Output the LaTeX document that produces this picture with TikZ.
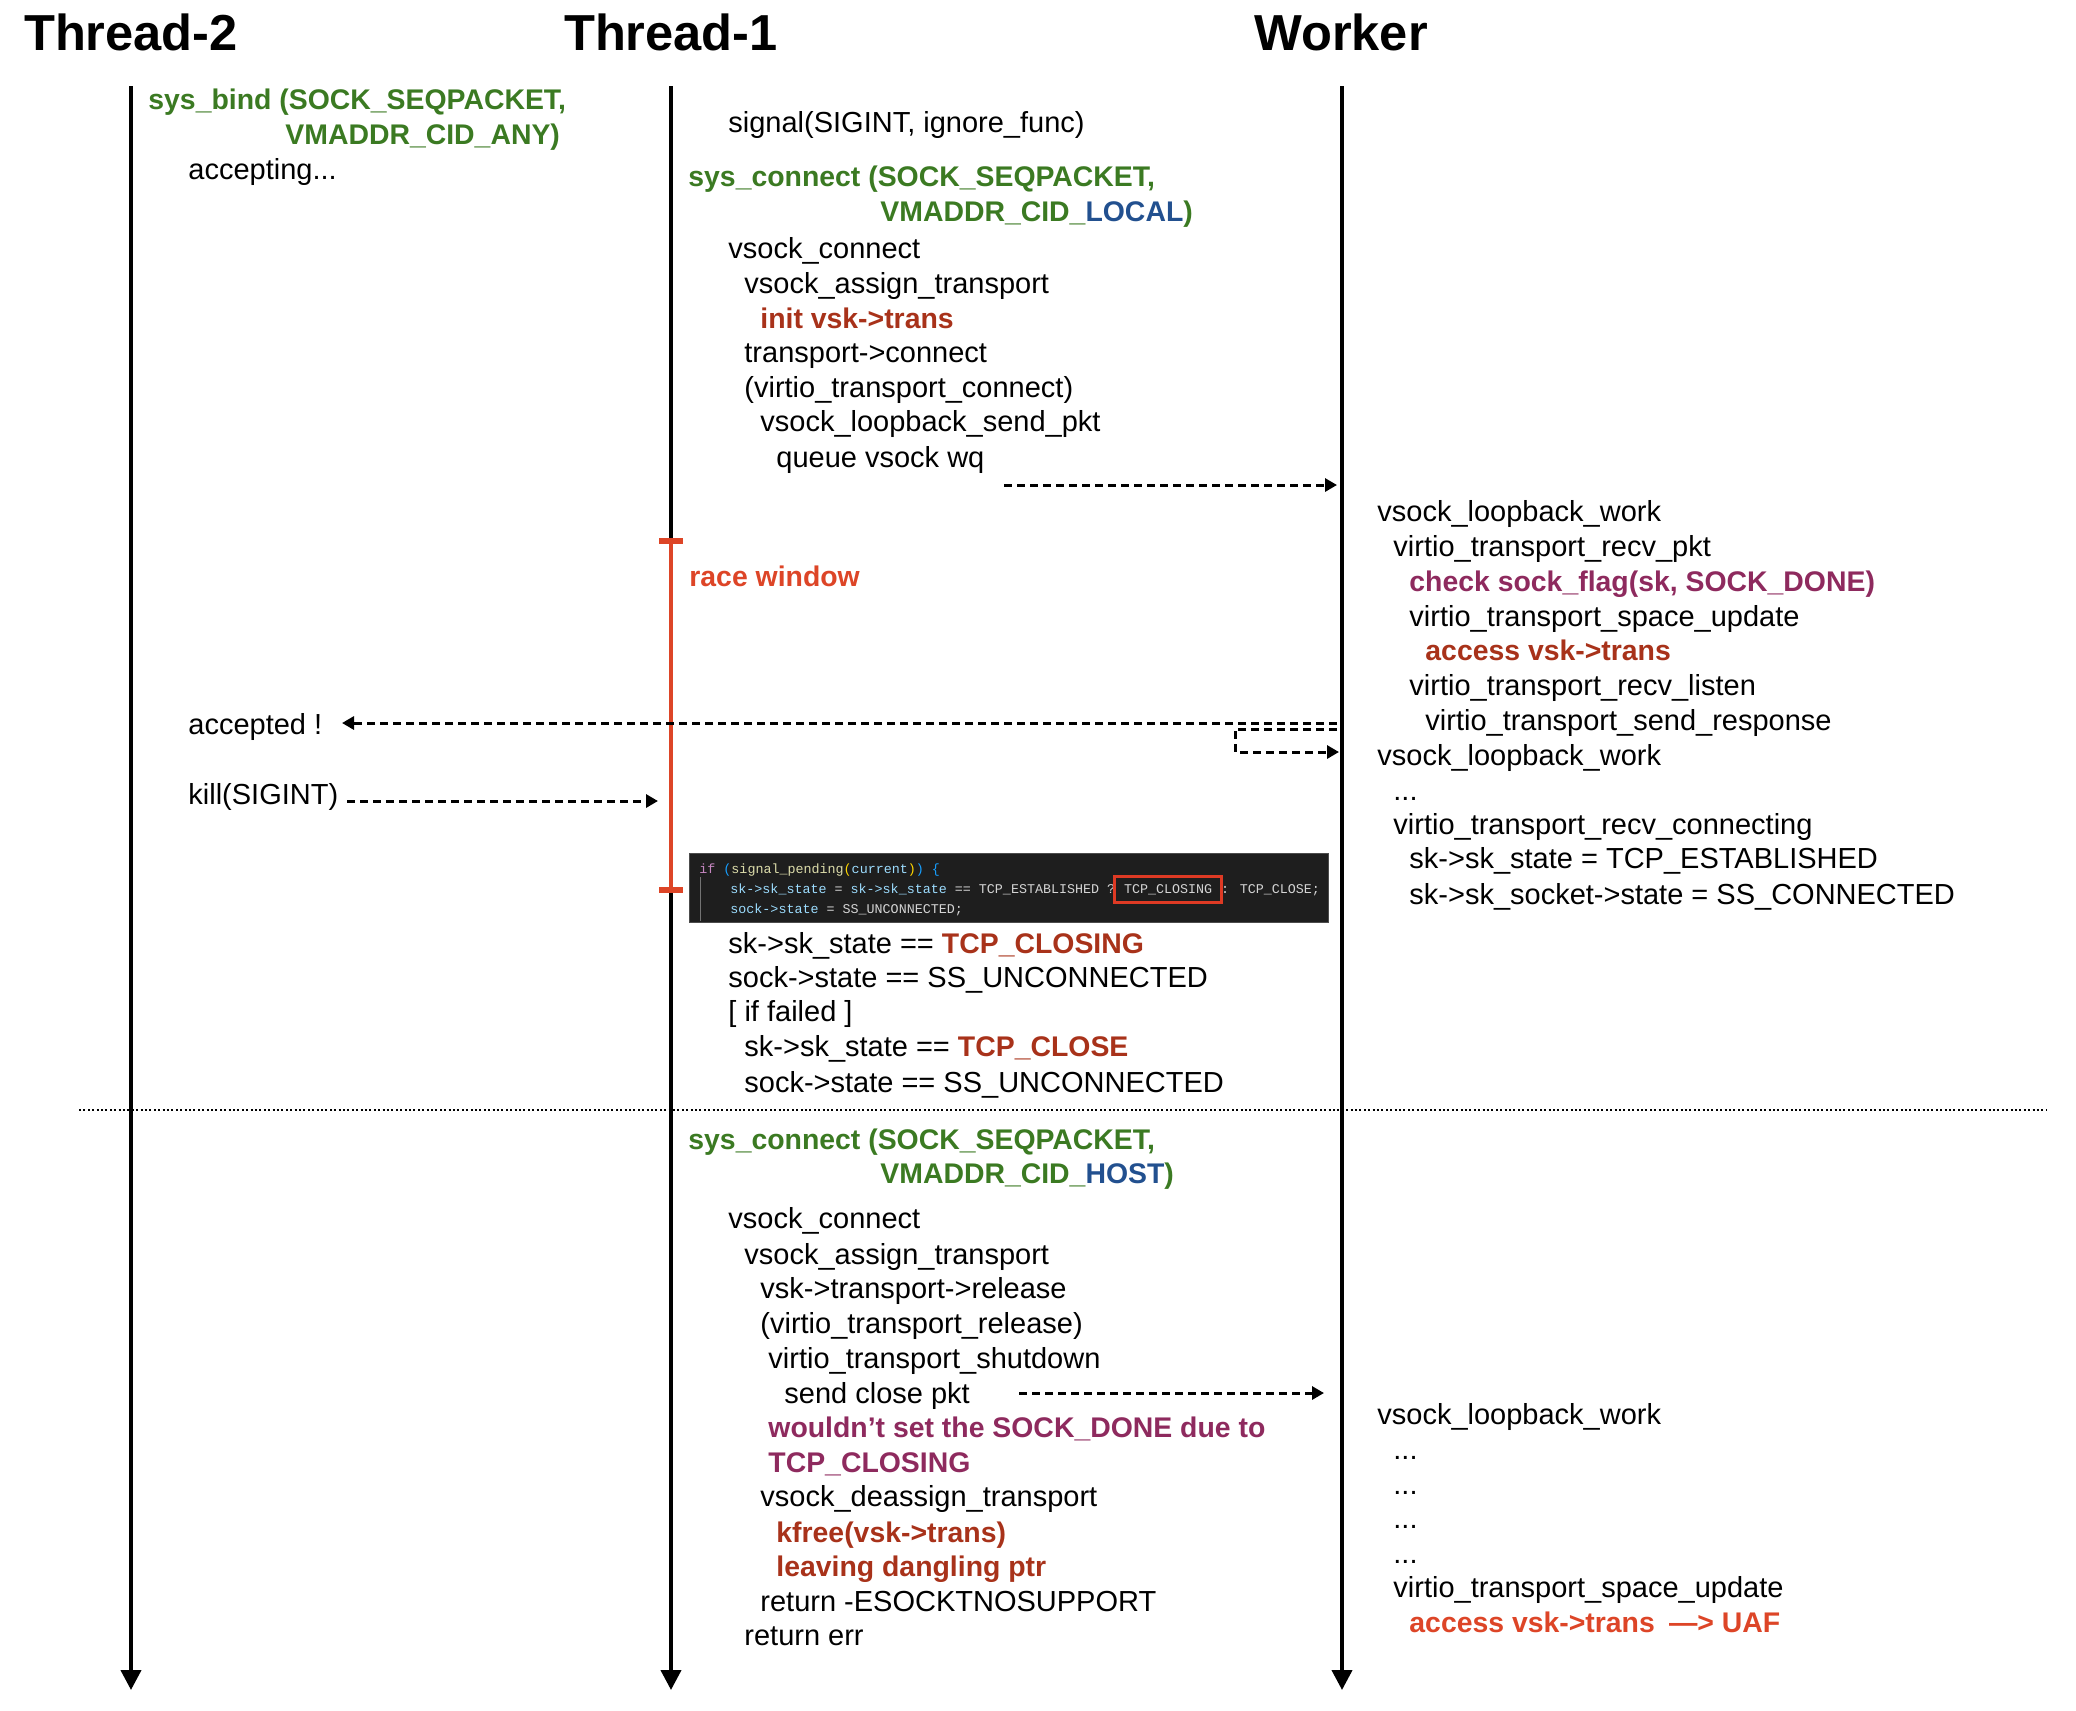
\documentclass[tikz,border=0pt]{standalone}
\usepackage{fontspec}
\setmainfont{Liberation Sans}
\newfontfamily\mycodefont{Liberation Mono}
\usetikzlibrary{arrows.meta}
\definecolor{cgreen}{RGB}{59,122,34}
\definecolor{cblue}{RGB}{34,80,143}
\definecolor{cred}{RGB}{168,50,26}
\definecolor{cpurple}{RGB}{142,42,94}
\definecolor{corange}{RGB}{221,69,39}
\definecolor{codebg}{RGB}{30,30,30}
\definecolor{ckw}{RGB}{197,134,192}
\definecolor{cfun}{RGB}{220,220,170}
\definecolor{cvar}{RGB}{156,220,254}
\definecolor{cplain}{RGB}{212,212,212}
\definecolor{cbra}{RGB}{23,159,255}
\definecolor{cbrb}{RGB}{255,215,0}
\definecolor{codered}{RGB}{222,58,36}
\tikzset{
  txt/.style={anchor=base west, inner sep=0pt, font=\fontsize{14.5}{17}\selectfont},
  btxt/.style={anchor=base west, inner sep=0pt, font=\fontsize{14.2}{17}\selectfont\bfseries},
  hdr/.style={anchor=base, inner sep=0pt, font=\fontsize{25.3}{30}\selectfont\bfseries},
  codetxt/.style={anchor=base west, inner sep=0pt, font=\mycodefont\fontsize{6.68}{8}\selectfont, text=cplain},
  timeline/.style={line width=2pt, -{Triangle[length=10pt,width=10pt]}},
  msg/.style={line width=1.5pt, dash pattern=on 4pt off 2.5pt, -{Triangle[length=6pt,width=6.5pt]}},
}
\begin{document}
\begin{tikzpicture}[x=0.5pt,y=-0.5pt]
\useasboundingbox (0,0) rectangle (2076,1710);
% headers
\node[hdr] (h2) at (131,50) {Thread-2};
\node[hdr] (h1) at (671,50) {Thread-1};
\node[hdr] (hw) at (1341,50) {Worker};
% timelines
\coordinate (l2top) at (131,86); \coordinate (l2bot) at (131,1690);
\coordinate (l1top) at (671,86); \coordinate (l1bot) at (671,1690);
\coordinate (lwtop) at (1342,86); \coordinate (lwbot) at (1342,1690);
\draw[timeline] (l2top) -- (l2bot);
\draw[timeline] (l1top) -- (l1bot);
\draw[timeline] (lwtop) -- (lwbot);
% race window
\coordinate (rwtop) at (671,541); \coordinate (rwbot) at (671,890);
\draw[corange, line width=2.3pt] (rwtop) -- (rwbot);
\draw[corange, line width=3pt] ([xshift=-6pt]rwtop) -- ([xshift=6pt]rwtop);
\draw[corange, line width=3pt] ([xshift=-6pt]rwbot) -- ([xshift=6pt]rwbot);
\node[btxt, text=corange] (rw) at (689,586) {race window};
% Thread-2
\node[btxt, text=cgreen] (a1) at (148,109) {sys\_bind (SOCK\_SEQPACKET,};
\node[btxt, text=cgreen] (a2) at (285,144) {VMADDR\_CID\_ANY)};
\node[txt] (a3) at (188,179) {accepting...};
\node[txt] (a4) at (188,734) {accepted !};
\node[txt] (a5) at (188,804) {kill(SIGINT)};
% Thread-1 top
\node[txt] (b1) at (728,132) {signal(SIGINT, ignore\_func)};
\node[btxt, text=cgreen] (b2) at (688,186) {sys\_connect (SOCK\_SEQPACKET,};
\node[btxt, text=cgreen] (b3) at (880,221) {VMADDR\_CID\_\textcolor{cblue}{LOCAL})};
\node[txt] (b4) at (728,258) {vsock\_connect};
\node[txt] (b5) at (744,293) {vsock\_assign\_transport};
\node[btxt, text=cred] (b6) at (760,328) {init vsk->trans};
\node[txt] (b7) at (744,362) {transport->connect};
\node[txt] (b8) at (744,397) {(virtio\_transport\_connect)};
\node[txt] (b9) at (760,431) {vsock\_loopback\_send\_pkt};
\node[txt] (b10) at (776,467) {queue vsock wq};
% code box
\node[fill=codebg, draw=black!70, line width=0.4pt, inner sep=0pt, minimum width=319.5pt, minimum height=34.5pt, anchor=north west] (cbox) at (689,853) {};
\coordinate (gtop) at (700,877); \coordinate (gbot) at (700,921);
\draw[black!55, line width=0.4pt] (gtop) -- (gbot);
\node[codetxt] (c1) at (699,873) {\textcolor{ckw}{if} \textcolor{cbra}{(}\textcolor{cfun}{signal\_pending}\textcolor{cbrb}{(}\textcolor{cvar}{current}\textcolor{cbrb}{)}\textcolor{cbra}{)} \textcolor{cbra}{\{}};
\node[codetxt] (c2a) at (730,893) {\textcolor{cvar}{sk->sk\_state} = \textcolor{cvar}{sk->sk\_state} == TCP\_ESTABLISHED ?};
\node[codetxt] (c2b) at ([xshift=4.008pt]c2a.base east) {TCP\_CLOSING};
\node[codetxt] (c2c) at ([xshift=4.008pt]c2b.base east) {: TCP\_CLOSE;};
\node[codetxt] (c3) at (730,913) {\textcolor{cvar}{sock->state} = SS\_UNCONNECTED;};
\draw[codered, line width=1.4pt] ([xshift=-4.5pt,yshift=-4.8pt]c2b.base west) rectangle ([xshift=4.5pt,yshift=8.2pt]c2b.base east);
% results
\node[txt] (d1) at (728,953) {sk->sk\_state == \textcolor{cred}{\fontsize{14.2}{17}\selectfont\bfseries TCP\_CLOSING}};
\node[txt] (d2) at (728,987) {sock->state == SS\_UNCONNECTED};
\node[txt] (d3) at (728,1021) {[ if failed ]};
\node[txt] (d4) at (744,1056) {sk->sk\_state == \textcolor{cred}{\fontsize{14.2}{17}\selectfont\bfseries TCP\_CLOSE}};
\node[txt] (d5) at (744,1092) {sock->state == SS\_UNCONNECTED};
% separator
\coordinate (sepl) at (79,1110); \coordinate (sepr) at (2046,1110);
\draw[line width=1pt, dash pattern=on 1pt off 1.2pt] (sepl) -- (sepr);
% Thread-1 bottom
\node[btxt, text=cgreen] (e1) at (688,1149) {sys\_connect (SOCK\_SEQPACKET,};
\node[btxt, text=cgreen] (e2) at (880,1183) {VMADDR\_CID\_\textcolor{cblue}{HOST})};
\node[txt] (e3) at (728,1228) {vsock\_connect};
\node[txt] (e4) at (744,1264) {vsock\_assign\_transport};
\node[txt] (e5) at (760,1298) {vsk->transport->release};
\node[txt] (e6) at (760,1333) {(virtio\_transport\_release)};
\node[txt] (e7) at (768,1368) {virtio\_transport\_shutdown};
\node[txt] (e8) at (784,1403) {send close pkt};
\node[btxt, text=cpurple] (e9) at (768,1437) {wouldn’t set the SOCK\_DONE due to};
\node[btxt, text=cpurple] (e10) at (768,1472) {TCP\_CLOSING};
\node[txt] (e11) at (760,1506) {vsock\_deassign\_transport};
\node[btxt, text=cred] (e12) at (776,1542) {kfree(vsk->trans)};
\node[btxt, text=cred] (e13) at (776,1576) {leaving dangling ptr};
\node[txt] (e14) at (760,1611) {return -ESOCKTNOSUPPORT};
\node[txt] (e15) at (744,1645) {return err};
% Worker top
\node[txt] (w1) at (1377,521) {vsock\_loopback\_work};
\node[txt] (w2) at (1393,556) {virtio\_transport\_recv\_pkt};
\node[btxt, text=cpurple] (w3) at (1409,591) {check sock\_flag(sk, SOCK\_DONE)};
\node[txt] (w4) at (1409,626) {virtio\_transport\_space\_update};
\node[btxt, text=cred] (w5) at (1425,660) {access vsk->trans};
\node[txt] (w6) at (1409,695) {virtio\_transport\_recv\_listen};
\node[txt] (w7) at (1425,730) {virtio\_transport\_send\_response};
\node[txt] (w8) at (1377,765) {vsock\_loopback\_work};
\node[txt] (w9) at (1393,800) {...};
\node[txt] (w10) at (1393,834) {virtio\_transport\_recv\_connecting};
\node[txt] (w11) at (1409,868) {sk->sk\_state = TCP\_ESTABLISHED};
\node[txt] (w12) at (1409,904) {sk->sk\_socket->state = SS\_CONNECTED};
% Worker bottom
\node[txt] (x1) at (1377,1424) {vsock\_loopback\_work};
\node[txt] (x2) at (1393,1459) {...};
\node[txt] (x3) at (1393,1494) {...};
\node[txt] (x4) at (1393,1528) {...};
\node[txt] (x5) at (1393,1563) {...};
\node[txt] (x6) at (1393,1597) {virtio\_transport\_space\_update};
\node[btxt, text=corange] (x7) at (1409,1632) {access vsk->trans\hspace{0.5em}—> UAF};
% messages
\coordinate (m1s) at (1004,485); \coordinate (m1e) at (1337,485);
\draw[msg] (m1s) -- (m1e);
\coordinate (m2s) at (1337,723); \coordinate (m2e) at (342,723);
\draw[msg] (m2s) -- (m2e);
\coordinate (m3s) at (1337,729); \coordinate (m3a) at (1235,729); \coordinate (m3b) at (1235,752); \coordinate (m3e) at (1339,752);
\draw[msg] (m3s) -- (m3a) -- (m3b) -- (m3e);
\coordinate (m4s) at (347,801); \coordinate (m4e) at (658,801);
\draw[msg] (m4s) -- (m4e);
\coordinate (m5s) at (1019,1393); \coordinate (m5e) at (1324,1393);
\draw[msg] (m5s) -- (m5e);
\end{tikzpicture}
\end{document}
